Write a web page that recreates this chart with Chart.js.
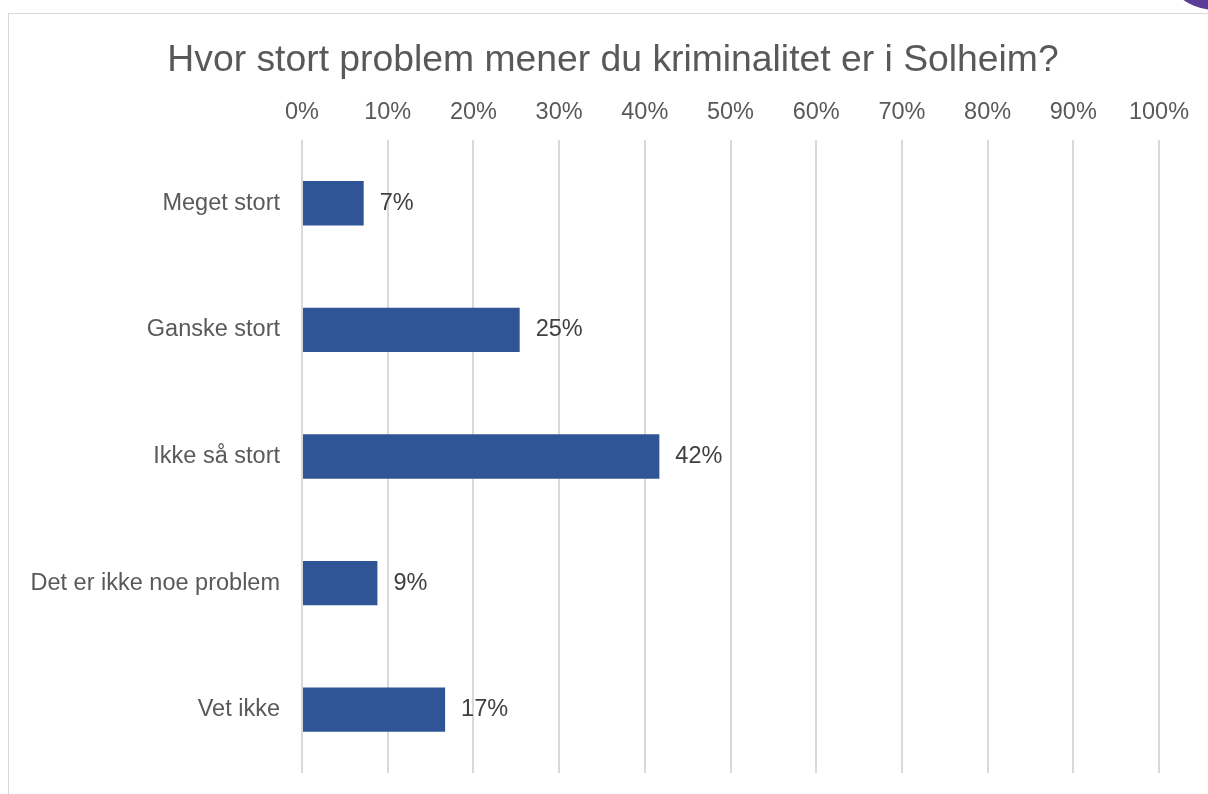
<!DOCTYPE html>
<html>
<head>
<meta charset="utf-8">
<title>Hvor stort problem mener du kriminalitet er i Solheim?</title>
<script src="https://cdn.jsdelivr.net/npm/chart.js@4.4.1/dist/chart.umd.min.js"></script>
<style>
    html, body { margin: 0; padding: 0; background: #fff; overflow: hidden; }
    body { width: 1208px; height: 794px; position: relative; }
    .frame {
        position: absolute; left: 8px; top: 13px;
        width: 1210px; height: 800px;
        border: 1px solid #D9D9D9; box-sizing: border-box;
    }
    .badge {
        position: absolute; left: 1160px; top: -100px;
        width: 110px; height: 110px; border-radius: 50%;
        background: #5B3C97;
    }
    #chart { position: absolute; left: 8px; top: 13px; }
</style>
</head>
<body>
<div class="frame"></div>
<div class="badge"></div>
<canvas id="chart" width="1210" height="781"></canvas>
<script>
// Categories and shares (percent)
const categories = ['Meget stort', 'Ganske stort', 'Ikke så stort', 'Det er ikke noe problem', 'Vet ikke'];
const shares = [7.2, 25.4, 41.7, 8.8, 16.7];
const xTicks = [0, 10, 20, 30, 40, 50, 60, 70, 80, 90, 100];

const textColor = '#595959';
const fontFamily = 'Arial, "Liberation Sans", sans-serif';
const labelSize = 23.5;

// Draw value labels at the end of each bar
const barValueLabels = {
    id: 'barValueLabels',
    afterDatasetsDraw(chart) {
        const ctx = chart.ctx;
        const meta = chart.getDatasetMeta(0);
        ctx.save();
        ctx.font = labelSize + 'px ' + fontFamily;
        ctx.fillStyle = '#404040';
        ctx.textAlign = 'left';
        ctx.textBaseline = 'middle';
        meta.data.forEach((bar, i) => {
            ctx.fillText(Math.round(shares[i]) + '%', bar.x + 16, bar.y);
        });
        ctx.restore();
    }
};

const ctx = document.getElementById('chart').getContext('2d');
new Chart(ctx, {
    type: 'bar',
    data: {
        labels: categories,
        datasets: [{
            data: shares,
            backgroundColor: '#2F5597',
            borderWidth: 0,
            barPercentage: 0.35,
            categoryPercentage: 1
        }]
    },
    options: {
        indexAxis: 'y',
        responsive: false,
        animation: false,
        layout: {
            padding: { left: 0, right: 0, top: 0, bottom: 21 }
        },
        plugins: {
            legend: { display: false },
            tooltip: { enabled: false },
            title: {
                display: true,
                text: 'Hvor stort problem mener du kriminalitet er i Solheim?',
                color: textColor,
                font: { size: 37.3, family: fontFamily, weight: 'normal' },
                padding: { top: 25, bottom: 2 }
            }
        },
        scales: {
            x: {
                position: 'top',
                min: 0,
                max: 100,
                afterBuildTicks(scale) {
                    scale.ticks = xTicks.map(v => ({ value: v }));
                },
                afterFit(scale) {
                    // room on the right so 100% lands where it does in the picture
                    scale.paddingLeft = 0;
                    scale.paddingRight = 59;
                },
                ticks: {
                    color: textColor,
                    font: { size: labelSize, family: fontFamily },
                    padding: 13.5,
                    maxRotation: 0,
                    callback: v => v + '%'
                },
                grid: {
                    color: '#D9D9D9',
                    lineWidth: 2,
                    drawTicks: false
                },
                border: { display: false }
            },
            y: {
                afterFit(scale) {
                    scale.width = 294;
                    scale.paddingTop = 0;
                    scale.paddingBottom = 0;
                },
                ticks: {
                    color: textColor,
                    font: { size: labelSize, family: fontFamily },
                    padding: 14
                },
                grid: { display: false },
                border: { display: false }
            }
        }
    },
    plugins: [barValueLabels]
});
</script>
</body>
</html>
